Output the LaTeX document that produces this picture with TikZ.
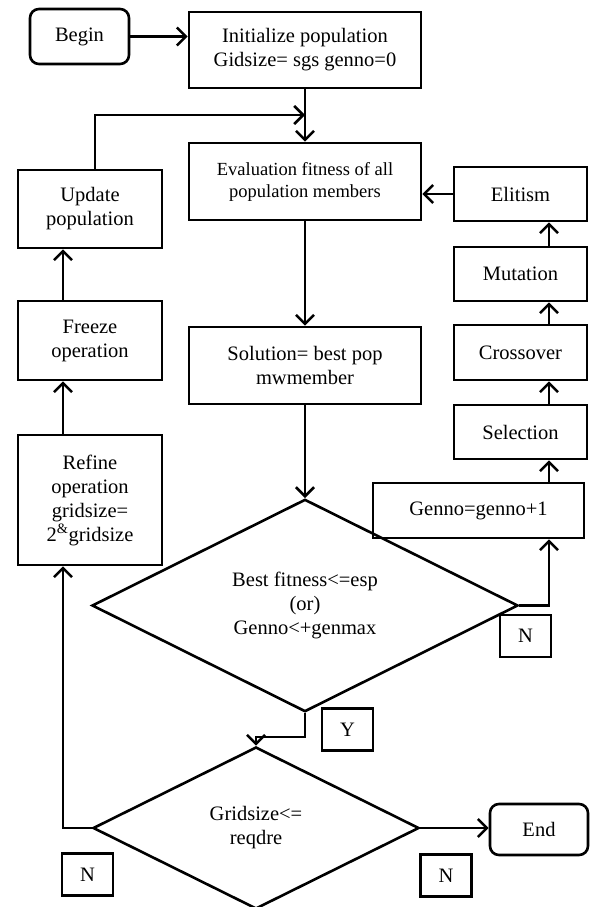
\documentclass[tikz,border=0pt]{standalone}
\usepackage{fontspec}
\setmainfont{Liberation Serif}
\usetikzlibrary{shapes.geometric,arrows.meta}

\begin{document}
\begin{tikzpicture}[x=1pt, y=-1pt,
    box/.style={draw, line width=2.6pt, align=center, inner sep=0pt, font=\fontsize{20.5}{24}\selectfont},
    term/.style={box, rounded corners=9pt},
    choice/.style={box, diamond},
    tag/.style={box, line width=2.2pt, minimum width=51pt, minimum height=42pt},
    arr/.style={line width=2.6pt, -{Straight Barb[length=9pt,width=18pt]}}]
    \useasboundingbox (0,0) rectangle (590,907);

    \node[term, minimum width=99pt, minimum height=55pt] (begin) at (79.5,36.5) {Begin};
    \node[box, minimum width=232pt, minimum height=76pt] (init) at (305,50) {Initialize population\\Gidsize= sgs genno=0};
    \node[box, minimum width=232pt, minimum height=77pt, font=\fontsize{18.5}{22}\selectfont] (eval) at (305,181.5) {Evaluation fitness of all\\population members};
    \node[box, minimum width=232pt, minimum height=77pt] (sol) at (305,365.5) {Solution= best pop\\mwmember};

    \node[box, minimum width=133pt, minimum height=54pt] (elit) at (520.5,194) {Elitism};
    \node[box, minimum width=133pt, minimum height=54pt] (mut) at (520.5,274) {Mutation};
    \node[box, minimum width=133pt, minimum height=55pt] (cross) at (520.5,352.5) {Crossover};
    \node[box, minimum width=133pt, minimum height=54pt] (sel) at (520.5,432) {Selection};
    \node[box, minimum width=211pt, minimum height=55pt] (genno) at (478.5,510.5) {Genno=genno+1};

    \node[box, minimum width=144pt, minimum height=78pt] (update) at (90,209) {Update\\population};
    \node[box, minimum width=144pt, minimum height=79pt] (freeze) at (90,340.5) {Freeze\\operation};
    \node[box, minimum width=144pt, minimum height=130pt] (refine) at (90,500) {Refine\\operation\\gridsize=\\2\textsuperscript{\&}gridsize};

    \node[choice, minimum width=426pt, minimum height=187pt] (fit) at (305,605.5) {Best fitness<=esp\\(or)\\Genno<+genmax};
    \node[choice, minimum width=326pt, minimum height=162pt] (grid) at (256,828) {Gridsize<=\\reqdre};
    \node[term, minimum width=98pt, minimum height=51pt] (stop) at (539,829.5) {End};

    \node[tag] (noA) at (525.5,636) {N};
    \node[tag] (yes) at (347.5,729.5) {Y};
    \node[tag] (noB) at (87.5,874.5) {N};
    \node[tag] (noC) at (446,875.5) {N};

    \coordinate (join) at (305,115);
    \coordinate (rcol) at (549,0);
    \coordinate (lcol) at (63,0);

    \draw[arr] (begin.east) -- (begin.east -| init.west);
    \draw[arr] (init.south) -- (eval.north);
    \draw[arr] ([xshift=5pt]update.north) |- (join);
    \draw[arr] (eval.south) -- (sol.north);
    \draw[arr] (sol.south) -- (fit.north);
    \draw[arr] (elit.west) -- (elit.west -| eval.east);

    \draw[arr] (fit.east) -| (genno.south -| rcol);
    \draw[arr] (genno.north -| rcol) -- (sel.south -| rcol);
    \draw[arr] (sel.north -| rcol) -- (cross.south -| rcol);
    \draw[arr] (cross.north -| rcol) -- (mut.south -| rcol);
    \draw[arr] (mut.north -| rcol) -- (elit.south -| rcol);

    \draw[arr] (fit.south) -- ++(0,24) -| (grid.north);
    \draw[arr] (grid.west) -| (refine.south -| lcol);
    \draw[arr] (refine.north -| lcol) -- (freeze.south -| lcol);
    \draw[arr] (freeze.north -| lcol) -- (update.south -| lcol);
    \draw[arr] (grid.east) -- (grid.east -| stop.west);
\end{tikzpicture}
\end{document}
